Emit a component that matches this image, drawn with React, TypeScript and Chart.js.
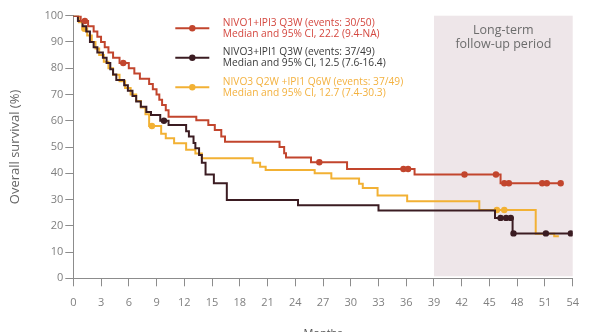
import React, { useEffect, useRef } from "react";
import { Chart, registerables } from "chart.js";
Chart.register(...registerables);

// ---- Data (months, overall survival %) ----
const redTimes = [0, 0.8, 1.6, 2.2, 2.6, 3.0, 3.4, 3.8, 4.3, 5.0, 6.0, 6.6, 7.2, 8.2, 8.6, 9.0, 9.3, 9.6, 10.0, 10.3, 13.3, 14.6, 15.3, 16.0, 16.4, 22.3, 22.8, 23.0, 25.7, 29.6, 36.9, 46.2, 52.7];
const redSurv = [100, 98, 96, 94, 92, 90, 88, 86, 84, 82, 80, 78, 76, 74, 72, 70, 68, 66, 64, 61.5, 60.2, 58.4, 56.5, 54, 52, 50, 47.6, 46, 44.2, 41.6, 39.5, 36.2, 36.2];
const redCensorT = [1.25, 5.4, 26.6, 35.7, 36.2, 42.3, 45.7, 46.6, 47.1, 50.7, 51.2, 52.7];
const redCensorS = [98, 82, 44.2, 41.6, 41.6, 39.5, 39.5, 36.2, 36.2, 36.2, 36.2, 36.2];

const blackTimes = [0, 0.5, 1.0, 1.4, 1.8, 2.2, 2.6, 3.2, 3.6, 4.0, 4.3, 4.65, 5.5, 5.9, 6.4, 6.8, 7.3, 7.9, 8.4, 9.4, 10.3, 12.2, 12.5, 13.0, 13.2, 13.6, 13.9, 14.3, 15.2, 16.6, 24.3, 33.0, 45.6, 47.5, 54];
const blackSurv = [100, 98, 96, 94, 90, 88, 86, 84, 82, 79.6, 77.6, 75.5, 73.5, 71.4, 69.4, 67.3, 65.3, 63.3, 62.2, 60, 58.4, 56, 54, 51.5, 49.5, 47, 44, 39.5, 36.2, 29.8, 27.8, 25.8, 23, 17.1, 17.1];
const blackCensorT = [9.8, 46.2, 46.8, 47.3, 47.6, 51.1, 53.8];
const blackCensorS = [60, 23, 23, 23, 17.1, 17.1, 17.1];

const yellowTimes = [0, 0.6, 1.0, 1.5, 2.0, 2.4, 2.8, 3.3, 3.8, 4.3, 5.0, 5.6, 6.2, 6.8, 7.3, 7.8, 8.2, 9.5, 10.0, 10.9, 12.2, 13.2, 13.9, 19.4, 20.2, 20.8, 26.1, 27.9, 30.9, 31.3, 32.9, 36.1, 43.9, 50.0, 52.0, 52.5];
const yellowSurv = [100, 97.5, 95, 92.5, 90, 87.5, 85, 82.5, 80, 77.5, 75, 72.5, 70, 67.5, 65, 62.5, 58, 55, 53.3, 51.4, 49, 47.5, 45.7, 44, 42.5, 41.2, 40, 38, 36, 34.4, 31.5, 29.3, 26, 17, 16, 16];
const yellowCensorT = [1.2, 8.5, 45.8, 46.6];
const yellowCensorS = [95, 58, 26, 26];

const legendTitles = ["NIVO1+IPI3 Q3W (events: 30/50)", "NIVO3+IPI1 Q3W (events: 37/49)", "NIVO3 Q2W +IPI1 Q6W (events: 37/49)"];
const legendMedians = ["Median and 95% CI, 22.2 (9.4-NA)", "Median and 95% CI, 12.5 (7.6-16.4)", "Median and 95% CI, 12.7 (7.4-30.3)"];

const xMin = 0, xMax = 54, xStep = 3;
const yMin = 0, yMax = 100, yStep = 10;
const shadeStart = 39, shadeEnd = 54;
const shadeLabel = ["Long-term", "follow-up period"];

const lineColors = ["#c2452d", "#3b1c22", "#f2b134"];
const textColors = ["#d4473f", "#3a3a3a", "#f3b13f"];

const FONT = "'Open Sans', 'Liberation Sans', sans-serif";

export default function App() {
  const ref = useRef<HTMLCanvasElement>(null);
  useEffect(() => {
    document.body.style.margin = "0";
    const canvas = ref.current!;
    const pts = (t: number[], s: number[]) => t.map((x, i) => ({ x, y: s[i] }));

    const shadePlugin = {
      id: "shade",
      beforeDatasetsDraw(chart: any) {
        const { ctx, scales } = chart;
        const x = scales.x, y = scales.y;
        const x0 = x.getPixelForValue(shadeStart), x1 = x.getPixelForValue(shadeEnd);
        const y0 = y.getPixelForValue(yMax), y1 = y.getPixelForValue(yMin);
        ctx.save();
        ctx.fillStyle = "#eee6e9";
        ctx.fillRect(x0, y0, x1 - x0, y1 - y0 - 2);
        ctx.fillStyle = "#6c6c6c";
        ctx.font = `12.5px ${FONT}`;
        ctx.textAlign = "center";
        ctx.textBaseline = "middle";
        const cx = (x0 + x1) / 2;
        shadeLabel.forEach((s, i) => ctx.fillText(s, cx, y0 + 15 + i * 13.5));
        ctx.restore();
      },
    };

    const legendPlugin = {
      id: "kmLegend",
      afterDraw(chart: any) {
        const { ctx, chartArea } = chart;
        const sx0 = chartArea.left + 102;
        const sx1 = chartArea.left + 136;
        const tx = chartArea.left + 149.5;
        ctx.save();
        ctx.font = `10.2px ${FONT}`;
        ctx.textBaseline = "middle";
        ctx.textAlign = "left";
        for (let i = 0; i < 3; i++) {
          const cy = chartArea.top + 12.6 + i * 29.5;
          ctx.strokeStyle = lineColors[i];
          ctx.lineWidth = 2;
          ctx.beginPath();
          ctx.moveTo(sx0, cy);
          ctx.lineTo(sx1, cy);
          ctx.stroke();
          ctx.fillStyle = lineColors[i];
          ctx.beginPath();
          ctx.arc((sx0 + sx1) / 2, cy, 3.2, 0, Math.PI * 2);
          ctx.fill();
          ctx.fillStyle = textColors[i];
          ctx.fillText(legendTitles[i], tx, cy - 5.5);
          ctx.fillText(legendMedians[i], tx, cy + 5.5);
        }
        ctx.restore();
      },
    };

    const lineDs = (label: string, t: number[], s: number[], color: string) => ({
      label,
      data: pts(t, s),
      borderColor: color,
      backgroundColor: color,
      borderWidth: 2,
      stepped: "before" as const,
      pointRadius: 0,
      fill: false,
    });
    const censorDs = (label: string, t: number[], s: number[], color: string) => ({
      label,
      data: pts(t, s),
      borderColor: color,
      backgroundColor: color,
      showLine: false,
      pointRadius: 3.2,
      pointBorderWidth: 0,
      pointStyle: "circle" as const,
    });

    const chart = new Chart(canvas, {
      type: "line",
      data: {
        datasets: [
          censorDs("c1", redCensorT, redCensorS, lineColors[0]),
          lineDs(legendTitles[0], redTimes, redSurv, lineColors[0]),
          censorDs("c2", blackCensorT, blackCensorS, lineColors[1]),
          lineDs(legendTitles[1], blackTimes, blackSurv, lineColors[1]),
          censorDs("c3", yellowCensorT, yellowCensorS, lineColors[2]),
          lineDs(legendTitles[2], yellowTimes, yellowSurv, lineColors[2]),
        ] as any,
      },
      options: {
        animation: false,
        responsive: false,
        devicePixelRatio: 1,
        layout: { padding: { top: 15.7, right: 12.3, left: 0, bottom: 0 } },
        plugins: { legend: { display: false }, tooltip: { enabled: false } },
        font: { family: FONT } as any,
        scales: {
          x: {
            type: "linear",
            min: xMin,
            max: xMax,
            afterFit: (s: any) => { s.height = 53.7; },
            ticks: { stepSize: xStep, color: "#808080", font: { size: 11, family: FONT }, padding: 10, maxRotation: 0, autoSkip: false },
            grid: { display: true, drawOnChartArea: false, drawTicks: true, tickLength: 8, color: "#8c8c8c" },
            border: { display: true, color: "#8c8c8c", width: 1 },
            title: { display: true, text: "Months", color: "#555", font: { size: 11, family: FONT }, padding: { top: 0, bottom: -8 } },
          },
          y: {
            type: "linear",
            min: yMin,
            max: yMax,
            afterFit: (s: any) => { s.width = 73.3; },
            ticks: { stepSize: yStep, color: "#808080", font: { size: 11, family: FONT }, padding: 2 },
            grid: { display: true, drawOnChartArea: false, drawTicks: true, tickLength: 8, color: "#8c8c8c" },
            border: { display: true, color: "#8c8c8c", width: 1 },
            title: { display: true, text: "Overall survival (%)", color: "#666", font: { size: 13, family: FONT }, padding: { top: 7, bottom: 0 } },
          },
        },
      },
      plugins: [shadePlugin, legendPlugin],
    } as any);
    return () => chart.destroy();
  }, []);
  return (
    <div style={{ width: 589, height: 332 }}>
      <canvas ref={ref} width={589} height={332} style={{ display: "block" }} />
    </div>
  );
}
